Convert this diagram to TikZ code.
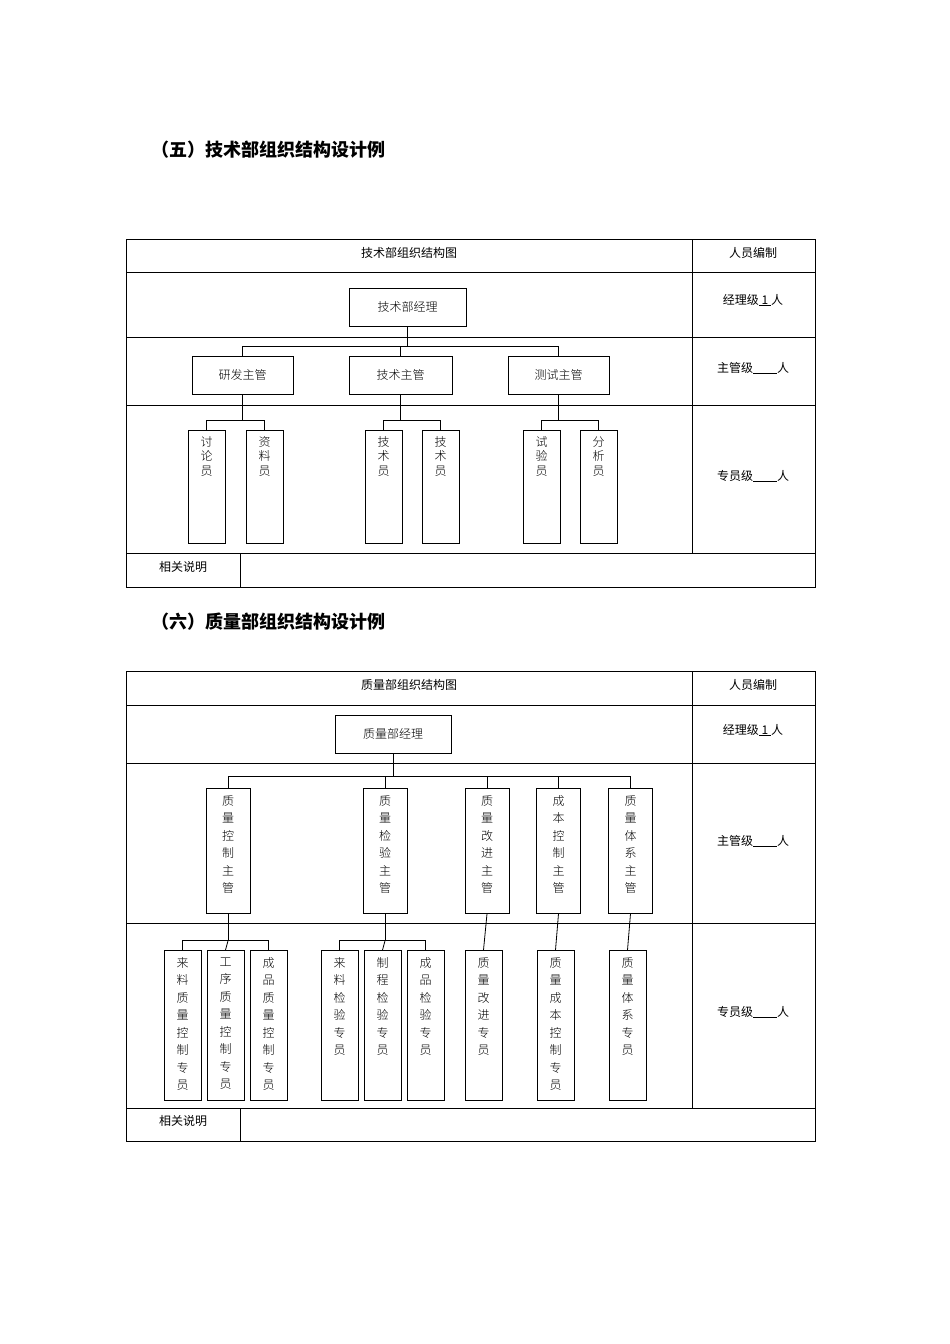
\documentclass[tikz,border=0pt]{standalone}
\usepackage{fontspec}
\setmainfont{Noto Sans CJK SC}
\newfontfamily\songti{Noto Sans CJK SC Light}
\begin{document}
\begin{tikzpicture}[x=1pt,y=-1pt,line width=0.8pt,
 bx/.style={draw,font=\fontsize{12}{14}\selectfont\songti,inner sep=0pt},
 vbox/.style={draw,anchor=north,inner sep=0pt},
 vt/.style={anchor=north,align=center,inner sep=0pt,font=\fontsize{12}{14.5}\selectfont\songti},
 vt2/.style={anchor=north,align=center,inner sep=0pt,font=\fontsize{12}{17.5}\selectfont\songti},
 tx/.style={font=\fontsize{12}{14}\selectfont},
 ttl/.style={font=\fontsize{18}{20}\selectfont\bfseries,anchor=west}]
\useasboundingbox (0,0) rectangle (950,1344);
% ===== Table 1
\node[ttl] (t1) at (148,150) {（五）技术部组织结构设计例};
\draw (126,239) rectangle (815,587);
\draw (692,239) -- (692,553);
\foreach \y in {272,337,405,553} \draw (126,\y) -- (815,\y);
\draw (240,553) -- (240,587);
\node[tx] (h1) at (409,253) {技术部组织结构图};
\node[tx] (h2) at (753,253) {人员编制};
\node[tx] (r1) at (753,300) {经理级\underline{ 1 }人};
\node[tx] (r2) at (753,368) {主管级\underline{\hspace{2em}}人};
\node[tx] (r3) at (753,476) {专员级\underline{\hspace{2em}}人};
\node[tx] (n1) at (183,567) {相关说明};
\node[bx,minimum width=117,minimum height=38] (m) at (407.5,307) {技术部经理};
\node[bx,minimum width=101,minimum height=38] (a) at (242.5,375) {研发主管};
\node[bx,minimum width=103,minimum height=38] (b) at (400.5,375) {技术主管};
\node[bx,minimum width=101,minimum height=38] (c) at (558.5,375) {测试主管};
\draw (m.south) -- ++(0,20) coordinate (j);
\draw (a.north) |- (j) -| (c.north);
\draw (j) -| (b.north);
\foreach \n/\x/\t in {a1/206.5/讨\\论\\员, a2/264.5/资\\料\\员, b1/383.5/技\\术\\员, b2/440.5/技\\术\\员, c1/541.5/试\\验\\员, c2/598.5/分\\析\\员}{
  \node[vbox,minimum width=37,minimum height=113] (\n) at (\x,430) {};
  \node[vt] (\n t) at (\x,436) {\t};}
\foreach \p/\l/\r in {a/a1/a2,b/b1/b2,c/c1/c2}{
  \draw (\p.south) -- ++(0,26) coordinate (k\p);
  \draw (\l.north) |- (k\p) -| (\r.north);}
% ===== Table 2
\node[ttl] (t2) at (148,622) {（六）质量部组织结构设计例};
\draw (126,671) rectangle (815,1141);
\draw (692,671) -- (692,1108);
\foreach \y in {705,763,923,1108} \draw (126,\y) -- (815,\y);
\draw (240,1108) -- (240,1141);
\node[tx] (g1) at (409,685) {质量部组织结构图};
\node[tx] (g2) at (753,685) {人员编制};
\node[tx] (s1) at (753,730) {经理级\underline{ 1 }人};
\node[tx] (s2) at (753,841) {主管级\underline{\hspace{2em}}人};
\node[tx] (s3) at (753,1012) {专员级\underline{\hspace{2em}}人};
\node[tx] (n2) at (183,1121) {相关说明};
\node[bx,minimum width=116,minimum height=38] (q) at (393,734) {质量部经理};
\foreach \n/\x/\t in {p1/228/质\\量\\控\\制\\主\\管, p2/385/质\\量\\检\\验\\主\\管, p3/487/质\\量\\改\\进\\主\\管, p4/558.5/成\\本\\控\\制\\主\\管, p5/630.5/质\\量\\体\\系\\主\\管}{
  \node[vbox,minimum width=44,minimum height=125] (\n) at (\x,788) {};
  \node[vt2] (\n t) at (\x,795) {\t};}
\draw (q.south) -- (393,776) coordinate (jq);
\draw (p1.north) |- (jq) -| (p5.north);
\foreach \n in {p2,p3,p4} \draw (\n.north) -- (\n.north |- jq);
\foreach \n/\x/\t in {e1/182.5/来\\料\\质\\量\\控\\制\\专\\员, e2/225.5/工\\序\\质\\量\\控\\制\\专\\员, e3/268.5/成\\品\\质\\量\\控\\制\\专\\员, e4/339.5/来\\料\\检\\验\\专\\员, e5/382.5/制\\程\\检\\验\\专\\员, e6/425.5/成\\品\\检\\验\\专\\员, e7/483.5/质\\量\\改\\进\\专\\员, e8/555.5/质\\量\\成\\本\\控\\制\\专\\员, e9/627.5/质\\量\\体\\系\\专\\员}{
  \node[vbox,minimum width=37,minimum height=150] (\n) at (\x,950) {};
  \node[vt2] (\n t) at (\x,957) {\t};}
\draw (p1.south) -- ++(0,27) coordinate (k1);
\draw (e1.north) |- (k1) -| (e3.north);
\draw (k1) -- (e2.north);
\draw (p2.south) -- ++(0,27) coordinate (k2);
\draw (e4.north) |- (k2) -| (e6.north);
\draw (k2) -- (e5.north);
\draw (p3.south) -- (e7.north);
\draw (p4.south) -- (e8.north);
\draw (p5.south) -- (e9.north);
\end{tikzpicture}
\end{document}
